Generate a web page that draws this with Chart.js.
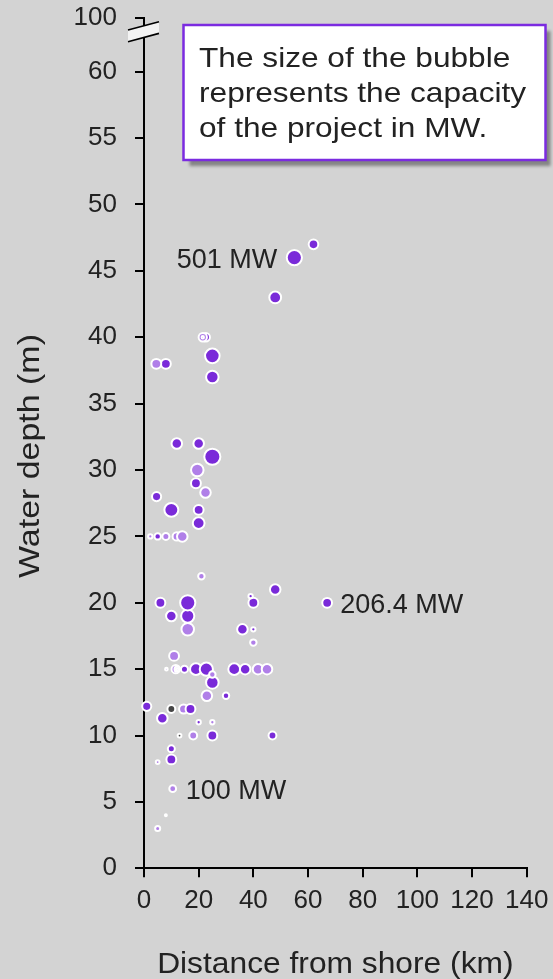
<!DOCTYPE html>
<html>
<head>
<meta charset="utf-8">
<script src="https://cdn.jsdelivr.net/npm/chart.js@4.4.1/dist/chart.umd.min.js"></script>
<style>
  html, body { margin: 0; padding: 0; background: #d3d3d3; overflow: hidden; }
  canvas { display: block; }
</style>
</head>
<body>
<canvas id="chart" width="553" height="979"></canvas>
<script>
// Offshore projects: distance from shore (km), water depth (m), capacity (MW).
// Points are listed in drawing order, so later entries sit on top of earlier ones.
const distanceKm = [
  62, 55, 48, 22.6, 21.5, 21.5, 25, 25, 8, 4.5,
  12, 20, 25, 19, 19.5, 22.5, 4.6, 10, 20, 20,
  5, 2.3, 8, 12, 14, 21, 48, 40, 39, 67,
  6, 16, 16, 10, 16, 36, 40, 40, 11, 8.2,
  11.6, 12.1, 12.1, 14.8, 19, 22.8, 25, 25, 33, 37,
  41.7, 45, 23, 30, 1, 10, 14.5, 17, 6.7, 20,
  25, 13, 18, 25, 47, 10, 5, 10, 10.5, 8,
  5
];
const depthM = [
  47, 46, 43, 40, 40, 40, 38.6, 37, 38, 38,
  32, 32, 31, 29, 30, 28.3, 28, 27, 27, 26,
  25, 25, 25, 25, 25, 22, 21, 20, 20.5, 20,
  20, 19, 20, 19, 18, 18, 18, 17, 16, 15,
  15, 15, 15, 15, 15, 15, 14, 14.6, 15, 15,
  15, 15, 13, 13, 12.2, 12, 12, 12, 11.3, 11,
  11, 10, 10, 10, 10, 9, 8, 8.2, 6, 4,
  3
];
const capacityMW = [
  200, 501, 300, 150, 150, 12, 460, 340, 210, 210,
  240, 240, 560, 210, 340, 240, 180, 420, 210, 300,
  90, 40, 106, 154, 240, 90, 240, 210, 40, 206.4,
  210, 376, 500, 240, 340, 240, 40, 90, 210, 15,
  150, 60, 12, 106, 300, 376, 340, 90, 300, 240,
  240, 240, 240, 90, 180, 133, 178, 210, 240, 40,
  40, 30, 133, 210, 133, 106, 30, 210, 100, 8,
  55
];
// Colour group of each project: 0 = purple, 1 = lilac, 2 = grey
const colourGroup = [
  0, 0, 0, 0, 1, 0, 0, 0, 0, 1,
  0, 0, 0, 0, 1, 1, 0, 0, 0, 0,
  0, 1, 1, 1, 1, 1, 0, 0, 0, 0,
  0, 0, 0, 0, 1, 0, 0, 1, 1, 1,
  1, 1, 0, 0, 0, 0, 0, 1, 0, 0,
  1, 1, 1, 0, 0, 2, 1, 0, 0, 0,
  1, 2, 1, 0, 0, 0, 1, 0, 1, 2,
  1
];
const groupColours = ['#7a2ad9', '#b07fe8', '#454545'];

// Projects whose capacity is written next to the bubble, and on which side
const labelledIndex = [1, 29, 68];
const labelSide = ['left', 'right', 'right'];

const xTickValues = [0, 20, 40, 60, 80, 100, 120, 140];
const xTickLabels = ['0', '20', '40', '60', '80', '100', '120', '140'];
// The axis is broken above 60 m; the last tick stands for 100 m.
const yBreakTop = 64.07;
const yTickValues = [0, 5, 10, 15, 20, 25, 30, 35, 40, 45, 50, 55, 60, yBreakTop];
const yTickLabels = ['0', '5', '10', '15', '20', '25', '30', '35', '40', '45', '50', '55', '60', '100'];

const noteLines = ['The size of the bubble', 'represents the capacity', 'of the project in MW.'];
const xTitle = 'Distance from shore (km)';
const yTitle = 'Water depth (m)';

const FONT = "'Liberation Sans', Arial, sans-serif";
const bubbleRadius = mw => 0.34 * Math.sqrt(mw);

const points = distanceKm.map((d, i) => ({ x: d, y: depthM[i], r: bubbleRadius(capacityMW[i]) }));

const decorations = {
  id: 'decorations',
  afterDraw(chart) {
    const { ctx, chartArea } = chart;
    const xs = chart.scales.x, ys = chart.scales.y;
    const ax = xs.getPixelForValue(0);
    const yt = ys.getPixelForValue(yBreakTop);

    // axis break marks
    const k = 0.268;
    const up = yt + 8, lo = yt + 19.7;
    ctx.save();
    ctx.beginPath();
    ctx.moveTo(ax - 16, up + 16 * k);
    ctx.lineTo(ax + 15, up - 15 * k);
    ctx.lineTo(ax + 15, lo - 15 * k);
    ctx.lineTo(ax - 16, lo + 16 * k);
    ctx.closePath();
    ctx.fillStyle = '#f3f3f3';
    ctx.fill();
    ctx.strokeStyle = '#000';
    ctx.lineWidth = 1.6;
    ctx.beginPath();
    ctx.moveTo(ax - 16, up + 16 * k); ctx.lineTo(ax + 15, up - 15 * k);
    ctx.moveTo(ax - 16, lo + 16 * k); ctx.lineTo(ax + 15, lo - 15 * k);
    ctx.stroke();
    ctx.restore();

    // note box
    const bx = 183.5, by = 25, bw = 362, bh = 135;
    ctx.save();
    ctx.shadowColor = 'rgba(0,0,0,0.38)';
    ctx.shadowBlur = 3;
    ctx.shadowOffsetX = 5;
    ctx.shadowOffsetY = 6;
    ctx.fillStyle = '#ffffff';
    ctx.fillRect(bx, by, bw, bh);
    ctx.restore();
    ctx.save();
    ctx.strokeStyle = '#7b2be0';
    ctx.lineWidth = 2.5;
    ctx.strokeRect(bx, by, bw, bh);
    ctx.fillStyle = '#222';
    ctx.font = '28px ' + FONT;
    ctx.textBaseline = 'alphabetic';
    ctx.textAlign = 'left';
    noteLines.forEach((line, i) => {
      ctx.save();
      ctx.translate(199, 66.7 + i * 35.3);
      ctx.scale(1.13, 1);
      ctx.fillText(line, 0, 0);
      ctx.restore();
    });
    ctx.restore();

    // capacity labels
    ctx.save();
    ctx.fillStyle = '#222';
    ctx.font = '27px ' + FONT;
    ctx.textBaseline = 'alphabetic';
    labelledIndex.forEach((idx, j) => {
      const px = xs.getPixelForValue(distanceKm[idx]);
      const py = ys.getPixelForValue(depthM[idx]);
      const text = capacityMW[idx] + ' MW';
      if (labelSide[j] === 'left') {
        ctx.textAlign = 'right';
        ctx.fillText(text, px - 17, py + 10.5);
      } else {
        ctx.textAlign = 'left';
        ctx.fillText(text, px + 13, py + 10.5);
      }
    });
    ctx.restore();

    // axis titles
    ctx.save();
    ctx.fillStyle = '#222';
    ctx.font = '29px ' + FONT;
    ctx.textAlign = 'center';
    ctx.textBaseline = 'alphabetic';
    ctx.save();
    ctx.translate((chartArea.left + chartArea.right) / 2, 972.7);
    ctx.scale(1.095, 1);
    ctx.fillText(xTitle, 0, 0);
    ctx.restore();
    ctx.save();
    ctx.translate(29, (chartArea.top + chartArea.bottom) / 2 + 13);
    ctx.rotate(-Math.PI / 2);
    ctx.scale(1.17, 1);
    ctx.fillText(yTitle, 0, 10.4);
    ctx.restore();
    ctx.restore();
  }
};

const axisGrid = {
  display: true,
  drawOnChartArea: false,
  drawTicks: true,
  tickLength: 9,
  color: '#000',
  lineWidth: 2
};

// Fixed axis sizes; label overhang is already covered by the layout padding.
const clearPadding = s => {
  s.paddingTop = 0; s.paddingBottom = 0; s.paddingLeft = 0; s.paddingRight = 0;
};

new Chart(document.getElementById('chart'), {
  type: 'bubble',
  data: {
    datasets: [{
      label: 'Projects',
      data: points,
      clip: false,
      backgroundColor: ctx => groupColours[colourGroup[ctx.dataIndex]],
      borderColor: '#ffffff',
      borderWidth: 2,
      hoverRadius: 0,
      hoverBorderWidth: 2
    }]
  },
  options: {
    responsive: false,
    animation: false,
    devicePixelRatio: 1,
    events: [],
    layout: { padding: { left: 0, right: 26.3, top: 17.7, bottom: 0 } },
    plugins: { legend: { display: false }, tooltip: { enabled: false } },
    scales: {
      x: {
        type: 'linear',
        min: 0,
        max: 140,
        afterBuildTicks: s => { s.ticks = xTickValues.map(v => ({ value: v })); },
        afterFit: s => { s.height = 979 - 868.3; clearPadding(s); },
        border: { display: true, color: '#000', width: 2 },
        grid: axisGrid,
        ticks: {
          autoSkip: false,
          maxRotation: 0,
          padding: 8,
          color: '#222',
          font: { family: FONT, size: 26 },
          callback: (v, i) => xTickLabels[i]
        }
      },
      y: {
        type: 'linear',
        min: 0,
        max: yBreakTop,
        afterBuildTicks: s => { s.ticks = yTickValues.map(v => ({ value: v })); },
        afterFit: s => { s.width = 144; clearPadding(s); },
        border: { display: true, color: '#000', width: 2 },
        grid: axisGrid,
        ticks: {
          autoSkip: false,
          padding: 18,
          color: '#222',
          font: { family: FONT, size: 26 },
          callback: (v, i) => yTickLabels[i]
        }
      }
    }
  },
  plugins: [decorations]
});
</script>
</body>
</html>
